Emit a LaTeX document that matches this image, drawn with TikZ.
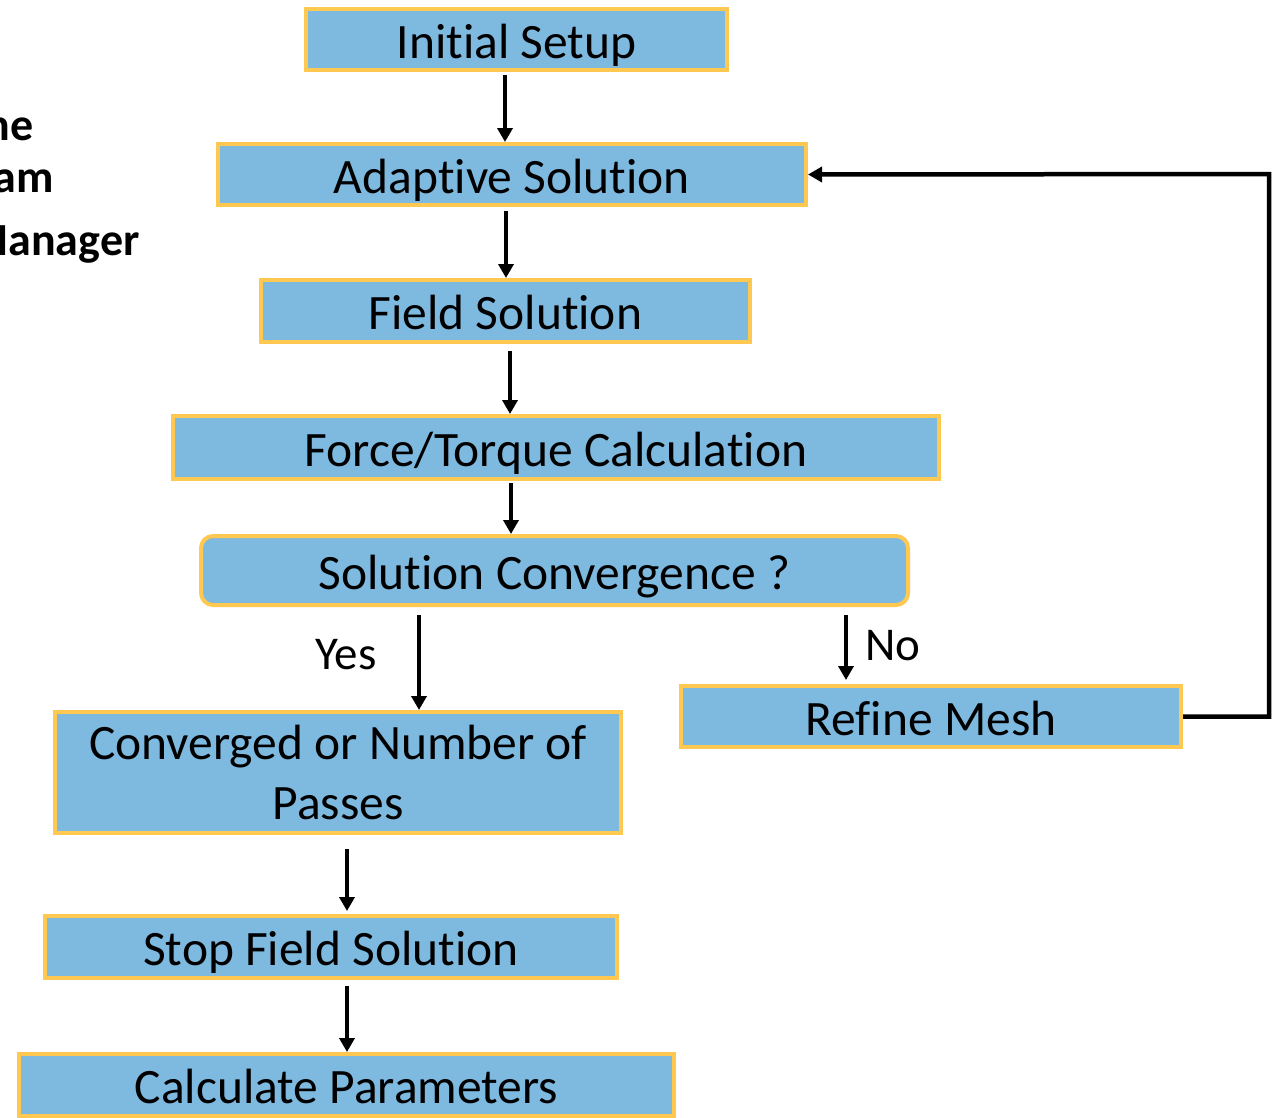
\documentclass[tikz,border=0pt]{standalone}
\usepackage{fontspec}
\setmainfont{Carlito}[Ligatures={NoCommon}]
\usetikzlibrary{positioning}
\usetikzlibrary{arrows.meta}
\definecolor{boxblue}{RGB}{126,185,224}
\definecolor{boxorange}{RGB}{255,200,80}

\begin{document}
\begin{tikzpicture}[x=1pt, y=-1pt,
    box/.style={draw=boxorange, fill=boxblue, line width=4pt, inner sep=0pt, align=center, text height=37pt, text depth=0pt, font=\fontsize{49.5}{60}\selectfont},
    flow/.style={line width=4.5pt, -{Triangle[length=14pt, width=15pt]}},
    side/.style={font=\fontsize{46}{52}\selectfont\bfseries, anchor=base east},
    answer/.style={font=\fontsize{47}{52}\selectfont}]
    \useasboundingbox (0,0) rectangle (1276,1117);
    \clip (0,0) rectangle (1276,1117);

    % text running in from the left
    \node[side] (t1) at (37,140) {ne};
    \node[side] (t2) at (57,192) {am};
    \node[side] (t3) at (143,255) {Manager};

    % main chain
    \node[box, minimum width=421pt, minimum height=61pt] (setup) at (516.5,39.5) {Initial Setup};
    \node[box, minimum width=588pt, minimum height=61pt] (adapt) at (512,174.5) {Adaptive Solution};
    \node[box, minimum width=489pt, minimum height=62pt] (field) at (505.5,311) {Field Solution};
    \node[box, minimum width=766pt, minimum height=63pt] (force) at (556,447.5) {Force/Torque Calculation};
    \node[box, rounded corners=12pt, minimum width=707pt, minimum height=69pt] (conv) at (554.5,570.5) {Solution Convergence ?};

    % branches
    \node[box, minimum width=500pt, minimum height=61pt] (refine) at (931,716.5) {Refine Mesh};
    \node[box, text height={}, text depth={}, minimum width=566pt, minimum height=121pt] (passes) at (338,772.5) {Converged or Number of\\Passes};
    \node[box, minimum width=572pt, minimum height=62pt] (stop) at (331,947) {Stop Field Solution};
    \node[box, minimum width=655pt, minimum height=62pt] (calc) at (346.5,1085) {Calculate Parameters};

    \node[answer] (yes) at (346,655) {Yes};
    \node[answer] (no) at (893,646) {No};

    % arrows
    \draw[flow, shorten <=3pt] ([xshift=-11.5pt]setup.south) -- ([xshift=-11.5pt]setup.south |- adapt.north);
    \draw[flow, shorten <=4pt] ([xshift=-6pt]adapt.south) -- ([xshift=-6pt]adapt.south |- field.north);
    \draw[flow, shorten <=7pt] ([xshift=4.5pt]field.south) -- ([xshift=4.5pt]field.south |- force.north);
    \draw[flow, shorten <=2pt] ([xshift=-45pt]force.south) -- ([xshift=-45pt]force.south |- conv.north);
    \draw[flow, shorten <=8pt] ([xshift=-135.5pt]conv.south) -- ([xshift=-135.5pt]conv.south |- passes.north);
    \draw[flow, shorten <=8pt, shorten >=4pt] ([xshift=291.5pt]conv.south) -- ([xshift=291.5pt]conv.south |- refine.north);
    \draw[flow, shorten <=14pt, shorten >=3pt] ([xshift=9pt]passes.south) -- ([xshift=9pt]passes.south |- stop.north);
    \draw[flow, shorten <=6pt] ([xshift=16pt]stop.south) -- ([xshift=16pt]stop.south |- calc.north);

    % loop back for refinement
    \coordinate (back) at (1269,174);
    \draw[flow] (refine.east) -| (back) -- (adapt.east);
\end{tikzpicture}
\end{document}
